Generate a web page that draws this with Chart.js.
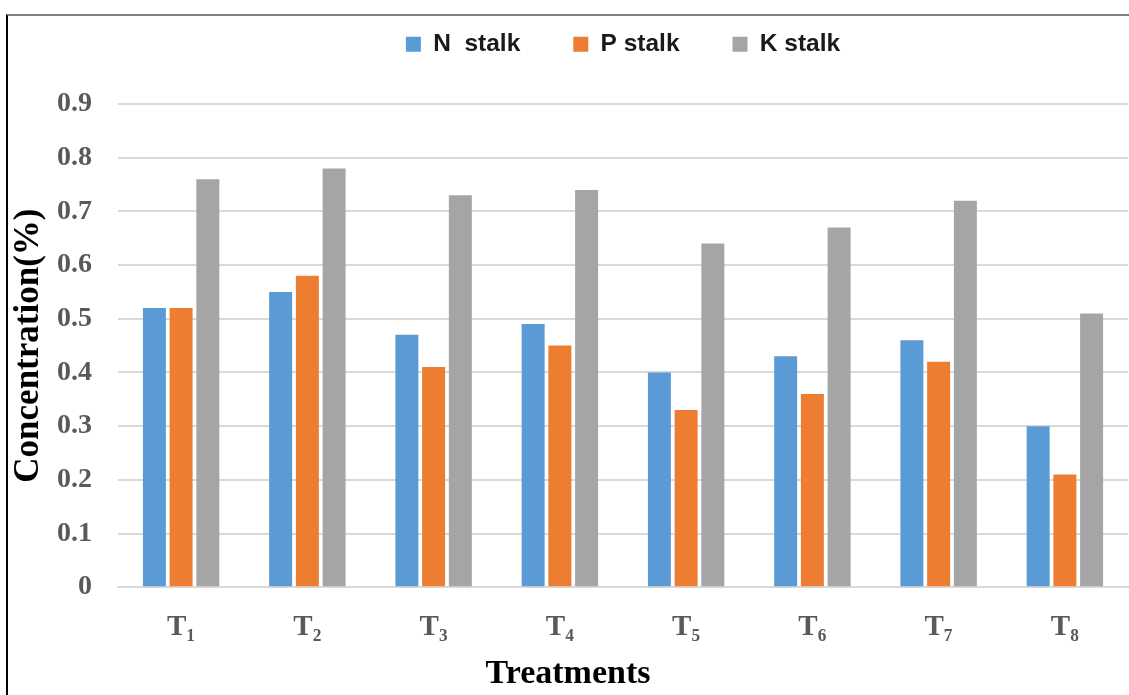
<!DOCTYPE html>
<html>
<head>
<meta charset="utf-8">
<script src="https://cdn.jsdelivr.net/npm/chart.js@4.4.1/dist/chart.umd.min.js"></script>
<style>
  html, body { margin: 0; padding: 0; background: #fff; }
  #wrap { position: relative; width: 1129px; height: 695px; overflow: hidden; }
  #frame { position: absolute; left: 6px; top: 14px; right: 0; bottom: 0;
           border-top: 2px solid #808080; border-left: 2px solid #000; pointer-events: none; }
  canvas { position: absolute; left: 0; top: 0; }
</style>
</head>
<body>
<div id="wrap">
  <canvas id="c" width="1129" height="695"></canvas>
  <div id="frame"></div>
</div>
<script>
const categories = ["T\u2081", "T\u2082", "T\u2083", "T\u2084", "T\u2085", "T\u2086", "T\u2087", "T\u2088"];
const nStalk = [0.52, 0.55, 0.47, 0.49, 0.40, 0.43, 0.46, 0.30];
const pStalk = [0.52, 0.58, 0.41, 0.45, 0.33, 0.36, 0.42, 0.21];
const kStalk = [0.76, 0.78, 0.73, 0.74, 0.64, 0.67, 0.72, 0.51];
const seriesNames = ["N  stalk", "P stalk", "K stalk"];
const yTicks = [0, 0.1, 0.2, 0.3, 0.4, 0.5, 0.6, 0.7, 0.8, 0.9];

const legendPlacePlugin = {
  id: 'legendPlace',
  beforeInit(chart) {
    const origFit = chart.legend.fit;
    chart.legend.fit = function () {
      origFit.bind(chart.legend)();
      this.height = 104;
    };
  },
  afterLayout(chart) {
    const lg = chart.legend;
    lg.top = -21;
    lg.left += 55;
    lg.right += 55;
  }
};

new Chart(document.getElementById('c'), {
  type: 'bar',
  data: {
    labels: categories,
    datasets: [
      { label: seriesNames[0], data: nStalk, backgroundColor: '#5b9bd5' },
      { label: seriesNames[1], data: pStalk, backgroundColor: '#ed7d31' },
      { label: seriesNames[2], data: kStalk, backgroundColor: '#a5a5a5' }
    ]
  },
  options: {
    responsive: false,
    animation: false,
    devicePixelRatio: 1,
    layout: { padding: { left: 8, right: 1, top: 0, bottom: 0 } },
    datasets: { bar: { categoryPercentage: 0.635, barPercentage: 0.86 } },
    plugins: {
      tooltip: { enabled: false },
      legend: {
        position: 'top',
        labels: {
          boxWidth: 15, boxHeight: 15, padding: 53,
          color: '#1a1a1a',
          font: { family: '"Liberation Sans", Arial, sans-serif', size: 24.5, weight: 'bold' }
        }
      },
      title: {
        display: true, position: 'bottom', text: 'Treatments', color: '#000',
        padding: { top: 0, bottom: 0 },
        font: { family: '"Liberation Serif", "Times New Roman", serif', size: 34, weight: 'bold', lineHeight: 1.2 }
      }
    },
    scales: {
      x: {
        grid: { display: false },
        border: { display: true, color: '#d9d9d9', width: 2 },
        ticks: {
          padding: 15,
          color: '#595959',
          font: { family: '"Liberation Serif", "Times New Roman", serif', size: 29, weight: 'bold' }
        },
        afterFit(scale) { scale.height = 67; }
      },
      y: {
        min: 0, max: 0.9,
        afterBuildTicks(scale) { scale.ticks = yTicks.map(v => ({ value: v })); },
        grid: { color: '#d9d9d9', lineWidth: 2, drawTicks: false },
        border: { display: false },
        ticks: {
          padding: 26,
          color: '#595959',
          font: { family: '"Liberation Serif", "Times New Roman", serif', size: 28, weight: 'bold' },
          callback: (v) => String(Math.round(v * 10) / 10)
        },
        title: {
          display: true, text: 'Concentration(%)', color: '#000',
          padding: { top: 0, bottom: 4 },
          font: { family: '"Liberation Serif", "Times New Roman", serif', size: 35, weight: 'bold' }
        },
        afterFit(scale) { scale.width = 110; }
      }
    }
  },
  plugins: [legendPlacePlugin]
});
</script>
</body>
</html>
